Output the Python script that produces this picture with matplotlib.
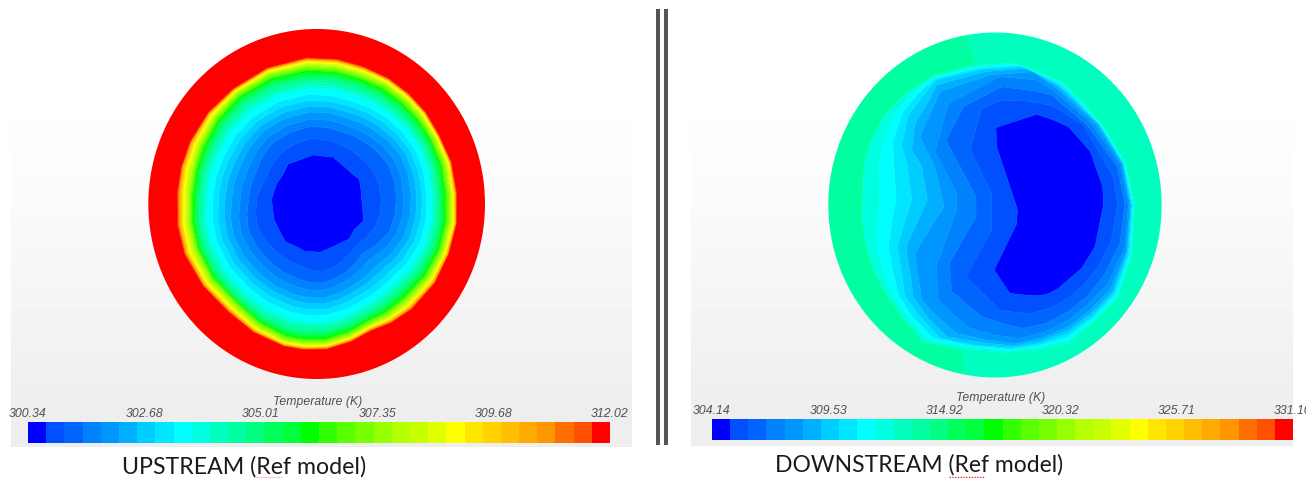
import matplotlib
matplotlib.use('Agg')
import matplotlib.pyplot as plt
import numpy as np
from matplotlib.colors import ListedColormap
from matplotlib.patches import Ellipse

W, H = 1306, 478

# band colours (32 bands)
band_rgb = [(0, 0, 255), (0, 80, 255), (0, 100, 255), (0, 130, 255), (0, 150, 255), (0, 175, 255),
            (0, 205, 255), (0, 230, 255), (0, 255, 255), (0, 255, 225), (0, 255, 190), (0, 255, 160),
            (0, 255, 130), (0, 255, 90), (0, 255, 60), (0, 255, 0), (50, 255, 0), (90, 255, 0),
            (120, 255, 0), (150, 255, 0), (180, 255, 0), (200, 255, 0), (225, 255, 0), (255, 255, 0),
            (255, 230, 0), (255, 210, 0), (255, 190, 0), (255, 170, 0), (255, 150, 0), (255, 110, 0),
            (255, 80, 0), (255, 0, 0)]

# UPSTREAM: contour radii along rays, in crop units (3 per pixel) from the disc centre
up_angles = [-4, 8, 19, 30, 40, 50, 61, 73, 86, 98, 111, 124, 138, 148, 157,
             166, 176, 185, 193, 206, 219, 234, 249, 261, 274, 285, 296, 310, 324, 340]
up_temps = [300.40, 300.71, 301.07, 301.44, 302.17, 302.90, 303.63, 305.09, 306.18,
            307.64, 309.10, 310.56, 311.66, 312.00]
up_radii = [
    [0] * 30,
    [148, 145, 150, 142, 140, 141, 149, 141, 138, 142, 152, 140, 147, 141, 141,
     143, 150, 148, 151, 146, 151, 141, 139, 135, 138, 135, 136, 135, 148, 142],
    [195, 192, 190, 190, 190, 192, 195, 195, 195, 192, 190, 182, 175, 182, 190,
     198, 207, 201, 195, 192, 190, 190, 190, 185, 180, 175, 170, 177, 185, 190],
    [232, 230, 228, 232, 235, 240, 245, 243, 240, 238, 235, 220, 205, 215, 225,
     232, 240, 238, 235, 230, 225, 222, 220, 212, 205, 205, 205, 215, 225, 228],
    [275, 274, 272, 276, 280, 285, 290, 288, 285, 283, 280, 270, 260, 265, 270,
     278, 285, 284, 282, 277, 272, 270, 268, 262, 255, 255, 255, 262, 270, 272],
    [310, 309, 308, 312, 315, 319, 322, 320, 318, 317, 315, 308, 300, 303, 305,
     313, 320, 319, 318, 313, 308, 307, 305, 300, 295, 295, 295, 300, 305, 308],
    [345, 344, 342, 345, 348, 350, 352, 349, 345, 347, 348, 342, 335, 339, 342,
     349, 355, 355, 355, 349, 342, 340, 338, 334, 330, 330, 330, 335, 340, 343],
    [380, 380, 378, 379, 378, 379, 378, 376, 372, 376, 378, 374, 368, 371, 372,
     382, 390, 392, 392, 383, 372, 371, 368, 364, 358, 359, 362, 371, 378, 381],
    [400, 398, 396, 397, 395, 394, 392, 391, 388, 391, 392, 390, 385, 386, 385,
     397, 408, 409, 408, 395, 380, 382, 380, 376, 372, 374, 378, 387, 395, 399],
    [415, 413, 410, 412, 410, 408, 404, 405, 402, 405, 405, 404, 400, 400, 398,
     410, 420, 422, 422, 408, 392, 394, 392, 389, 385, 387, 392, 401, 408, 413],
    [427, 426, 423, 424, 422, 420, 414, 415, 412, 416, 416, 417, 414, 412, 407,
     419, 430, 432, 432, 420, 408, 410, 410, 406, 402, 405, 408, 414, 418, 424],
    [434, 433, 430, 430, 427, 424, 419, 421, 419, 423, 423, 425, 423, 419, 413,
     425, 436, 438, 438, 428, 416, 418, 420, 417, 414, 417, 419, 422, 423, 430],
    [438, 437, 434, 433, 430, 427, 421, 423, 422, 425, 425, 428, 427, 423, 416,
     428, 439, 441, 440, 431, 420, 422, 425, 423, 420, 421, 423, 425, 426, 433],
    [570] * 30,
]
up_ticks = [300.34, 302.68, 305.01, 307.35, 309.68, 312.02]

# DOWNSTREAM: contour vertices in crop units, one row per contour
down_x = [
    [680] * 27,
    [650, 700, 745, 778, 810, 848, 850, 825, 785, 750, 715, 688, 660, 615, 570, 546, 523, 556, 590, 591, 593, 560, 545, 530, 529, 528, 589],
    [620, 660, 700, 745, 790, 880, 893, 875, 835, 790, 745, 690, 635, 590, 540, 488, 437, 476, 515, 515, 515, 480, 465, 450, 467, 485, 545],
    [640, 668, 695, 750, 805, 892, 915, 900, 850, 798, 745, 678, 610, 545, 485, 440, 395, 391, 388, 428, 468, 468, 423, 378, 404, 430, 545],
    [650, 678, 705, 760, 815, 900, 925, 915, 862, 803, 745, 672, 600, 525, 450, 400, 355, 352, 350, 380, 410, 410, 378, 345, 365, 385, 540],
    [640, 676, 712, 768, 825, 905, 930, 920, 870, 808, 745, 667, 590, 500, 410, 352, 305, 295, 285, 328, 372, 345, 322, 300, 330, 360, 510],
    [620, 667, 715, 775, 835, 908, 933, 922, 878, 813, 745, 662, 580, 480, 380, 322, 280, 269, 258, 290, 322, 305, 275, 285, 325, 350, 495],
    [610, 664, 718, 780, 840, 910, 936, 925, 882, 816, 745, 659, 575, 465, 360, 300, 255, 244, 232, 252, 275, 262, 245, 265, 310, 350, 485],
    [600, 660, 720, 785, 845, 912, 939, 928, 886, 818, 745, 657, 570, 455, 340, 275, 235, 218, 205, 215, 228, 222, 218, 248, 295, 345, 480],
    [590, 656, 722, 790, 850, 915, 942, 932, 890, 822, 745, 655, 565, 445, 325, 255, 215, 188, 170, 172, 180, 175, 190, 228, 282, 345, 475],
    [585, 655, 725, 795, 855, 918, 945, 936, 895, 825, 745, 655, 560, 430, 310, 240, 195, 160, 140, 128, 128, 132, 150, 195, 258, 340, 470],
    [585, 655, 729, 798, 859, 922, 949, 940, 899, 828, 747, 655, 560, 430, 308, 236, 191, 156, 136, 124, 124, 128, 146, 191, 255, 337, 468],
    [530, 660, 790, 880, 960, 1040, 1060, 1045, 965, 890, 800, 680, 560, 435, 300, 180, 100, 40, -5, -20, -20, 0, 35, 85, 195, 310, 435],
]
down_y = [
    [550] * 27,
    [283, 300, 320, 357, 393, 500, 555, 680, 745, 775, 805, 820, 827, 825, 820, 785, 750, 681, 612, 591, 570, 470, 425, 380, 352, 323, 303],
    [243, 250, 258, 287, 315, 470, 555, 660, 740, 795, 835, 865, 880, 878, 870, 820, 770, 700, 630, 575, 520, 450, 419, 388, 327, 265, 240],
    [212, 218, 225, 272, 320, 440, 555, 670, 770, 832, 875, 910, 925, 910, 890, 852, 815, 772, 730, 660, 590, 530, 446, 362, 311, 260, 200],
    [180, 197, 215, 263, 312, 435, 555, 680, 795, 855, 900, 937, 955, 945, 925, 883, 840, 787, 735, 652, 570, 520, 458, 395, 322, 250, 170],
    [155, 181, 207, 258, 310, 432, 555, 690, 810, 872, 920, 953, 970, 960, 940, 890, 840, 770, 700, 630, 560, 440, 395, 350, 283, 215, 165],
    [145, 172, 200, 255, 313, 430, 555, 695, 815, 880, 930, 962, 978, 967, 950, 892, 830, 755, 680, 610, 540, 440, 390, 310, 245, 195, 155],
    [140, 167, 195, 254, 316, 430, 555, 700, 820, 888, 940, 970, 984, 975, 955, 890, 830, 755, 680, 610, 540, 440, 375, 285, 225, 180, 148],
    [136, 163, 190, 254, 320, 430, 555, 705, 825, 895, 950, 977, 988, 978, 955, 887, 825, 752, 680, 610, 540, 440, 365, 275, 220, 175, 143],
    [133, 160, 188, 253, 323, 430, 555, 708, 830, 900, 960, 983, 992, 983, 960, 882, 820, 750, 680, 610, 540, 440, 360, 275, 215, 172, 139],
    [128, 155, 185, 250, 326, 430, 555, 712, 835, 905, 970, 990, 998, 988, 965, 880, 815, 745, 680, 610, 540, 440, 370, 285, 222, 168, 135],
    [124, 151, 181, 247, 322, 428, 555, 716, 839, 908, 974, 994, 1002, 992, 969, 884, 817, 747, 682, 610, 540, 438, 368, 281, 219, 164, 131],
    [5, 15, 45, 110, 205, 390, 555, 730, 900, 975, 1040, 1090, 1115, 1100, 1075, 1000, 910, 825, 730, 640, 550, 380, 295, 215, 115, 25, 10],
]
down_temps = [304.20, 304.98, 305.83, 306.67, 307.51, 308.35, 309.20, 310.04, 310.88, 311.72, 312.57]
# the two outer rows differ left and right of the vertical seam in the ring
down_ring = [313.0] * 13 + [313.4] + [313.8] * 12 + [313.4]
down_ticks = [304.14, 309.53, 314.92, 320.32, 325.71, 331.10]

colors = [tuple(c / 255 for c in rgb) for rgb in band_rgb]
cmap = ListedColormap(colors)

fig = plt.figure(figsize=(W / 100, H / 100), dpi=100, facecolor='white')


def px_axes(x0, y0, x1, y1):
    return fig.add_axes([x0 / W, 1 - y1 / H, (x1 - x0) / W, (y1 - y0) / H])


def panel_background(x0, y0, x1, y1):
    ax = px_axes(x0, y0, x1, y1)
    ax.imshow(np.array([[1.0], [0.995], [0.975], [0.955], [0.93]]), cmap='gray', vmin=0, vmax=1,
              aspect='auto', interpolation='bicubic')
    ax.axis('off')


def disc_axes(x0, y0):
    # crop of 350x370 px, units of 1/3 px
    ax = px_axes(x0, y0, x0 + 350, y0 + 370)
    ax.set_xlim(0, 1050)
    ax.set_ylim(1110, 0)
    ax.patch.set_alpha(0)
    ax.axis('off')
    return ax


def draw_field(ax, X, Y, Z, levels, clip):
    X = np.column_stack([X, X[:, 0]])
    Y = np.column_stack([Y, Y[:, 0]])
    Z = np.column_stack([Z, Z[:, 0]])
    cs = ax.contourf(X, Y, Z, levels=levels, cmap=cmap, antialiased=True)
    cs.set_edgecolor('face')
    cs.set_linewidth(0.3)
    ell = Ellipse(clip[:2], clip[2], clip[3], transform=ax.transData)
    cs.set_clip_path(ell)
    return cs


def draw_colorbar(cs, x0, y0, x1, y1, ticks):
    cax = px_axes(x0, y0, x1, y1)
    cb = fig.colorbar(cs, cax=cax, orientation='horizontal', ticks=ticks)
    cb.outline.set_visible(False)
    cax.xaxis.set_ticks_position('top')
    cax.set_xticks(ticks)
    cax.set_xticklabels(['%.2f' % t for t in ticks], fontsize=8.8, style='italic',
                        color='#505050', family='Liberation Sans')
    cax.tick_params(axis='x', length=0, pad=1.5)
    cax.minorticks_off()
    return cax


panel_background(11, 24, 632, 447)
panel_background(691, 24, 1293, 446)

# upstream disc
theta = np.radians(up_angles)
r = np.array(up_radii, dtype=float)
ax1 = disc_axes(140, 20)
X1 = 530 + r * np.sin(theta)
Y1 = 550 - r * np.cos(theta)
Z1 = np.tile(np.array(up_temps)[:, None], (1, len(up_angles)))
levels1 = np.linspace(up_ticks[0], up_ticks[-1], 33)
cs1 = draw_field(ax1, X1, Y1, Z1, levels1, (530, 552, 1010, 1050))
draw_colorbar(cs1, 28, 422, 610, 443, up_ticks)

# downstream disc
ax2 = disc_axes(820, 20)
X2 = np.array(down_x, dtype=float)
Y2 = np.array(down_y, dtype=float)
Z2 = np.tile(np.array(down_temps)[:, None], (1, len(down_ring)))
Z2 = np.vstack([Z2, down_ring, down_ring])
levels2 = np.linspace(down_ticks[0], down_ticks[-1], 33)
cs2 = draw_field(ax2, X2, Y2, Z2, levels2, (525, 555, 1000, 1035))
draw_colorbar(cs2, 712, 419, 1293, 440, down_ticks)

fig.text(318 / W, 1 - 402 / H, 'Temperature (K)', ha='center', va='center', fontsize=8.8,
         style='italic', color='#505050', family='Liberation Sans')
fig.text(1001 / W, 1 - 398 / H, 'Temperature (K)', ha='center', va='center', fontsize=8.8,
         style='italic', color='#505050', family='Liberation Sans')

fig.text(122 / W, 1 - 467 / H, 'UPSTREAM (Ref model)', ha='left', va='center', fontsize=16.7,
         color='#1a1a1a', family='Lato')
fig.text(775 / W, 1 - 465 / H, 'DOWNSTREAM (Ref model)', ha='left', va='center', fontsize=16.5,
         color='#1a1a1a', family='Lato')

# divider and spell-check squiggle
over = fig.add_axes([0, 0, 1, 1])
over.set_xlim(0, W)
over.set_ylim(H, 0)
over.axis('off')
over.patch.set_alpha(0)
over.plot([658, 658], [9, 445], color='#555555', lw=2.9, solid_capstyle='butt')
over.plot([666, 666], [9, 445], color='#555555', lw=2.9, solid_capstyle='butt')
over.plot([949, 985], [476.5, 476.5], color='#e03030', lw=1.0, ls=(0, (1, 1)))
over.plot([254, 283], [477, 477], color='#e8a0a0', lw=0.8, ls=(0, (1, 1)))

fig.savefig('out.png', dpi=100)
